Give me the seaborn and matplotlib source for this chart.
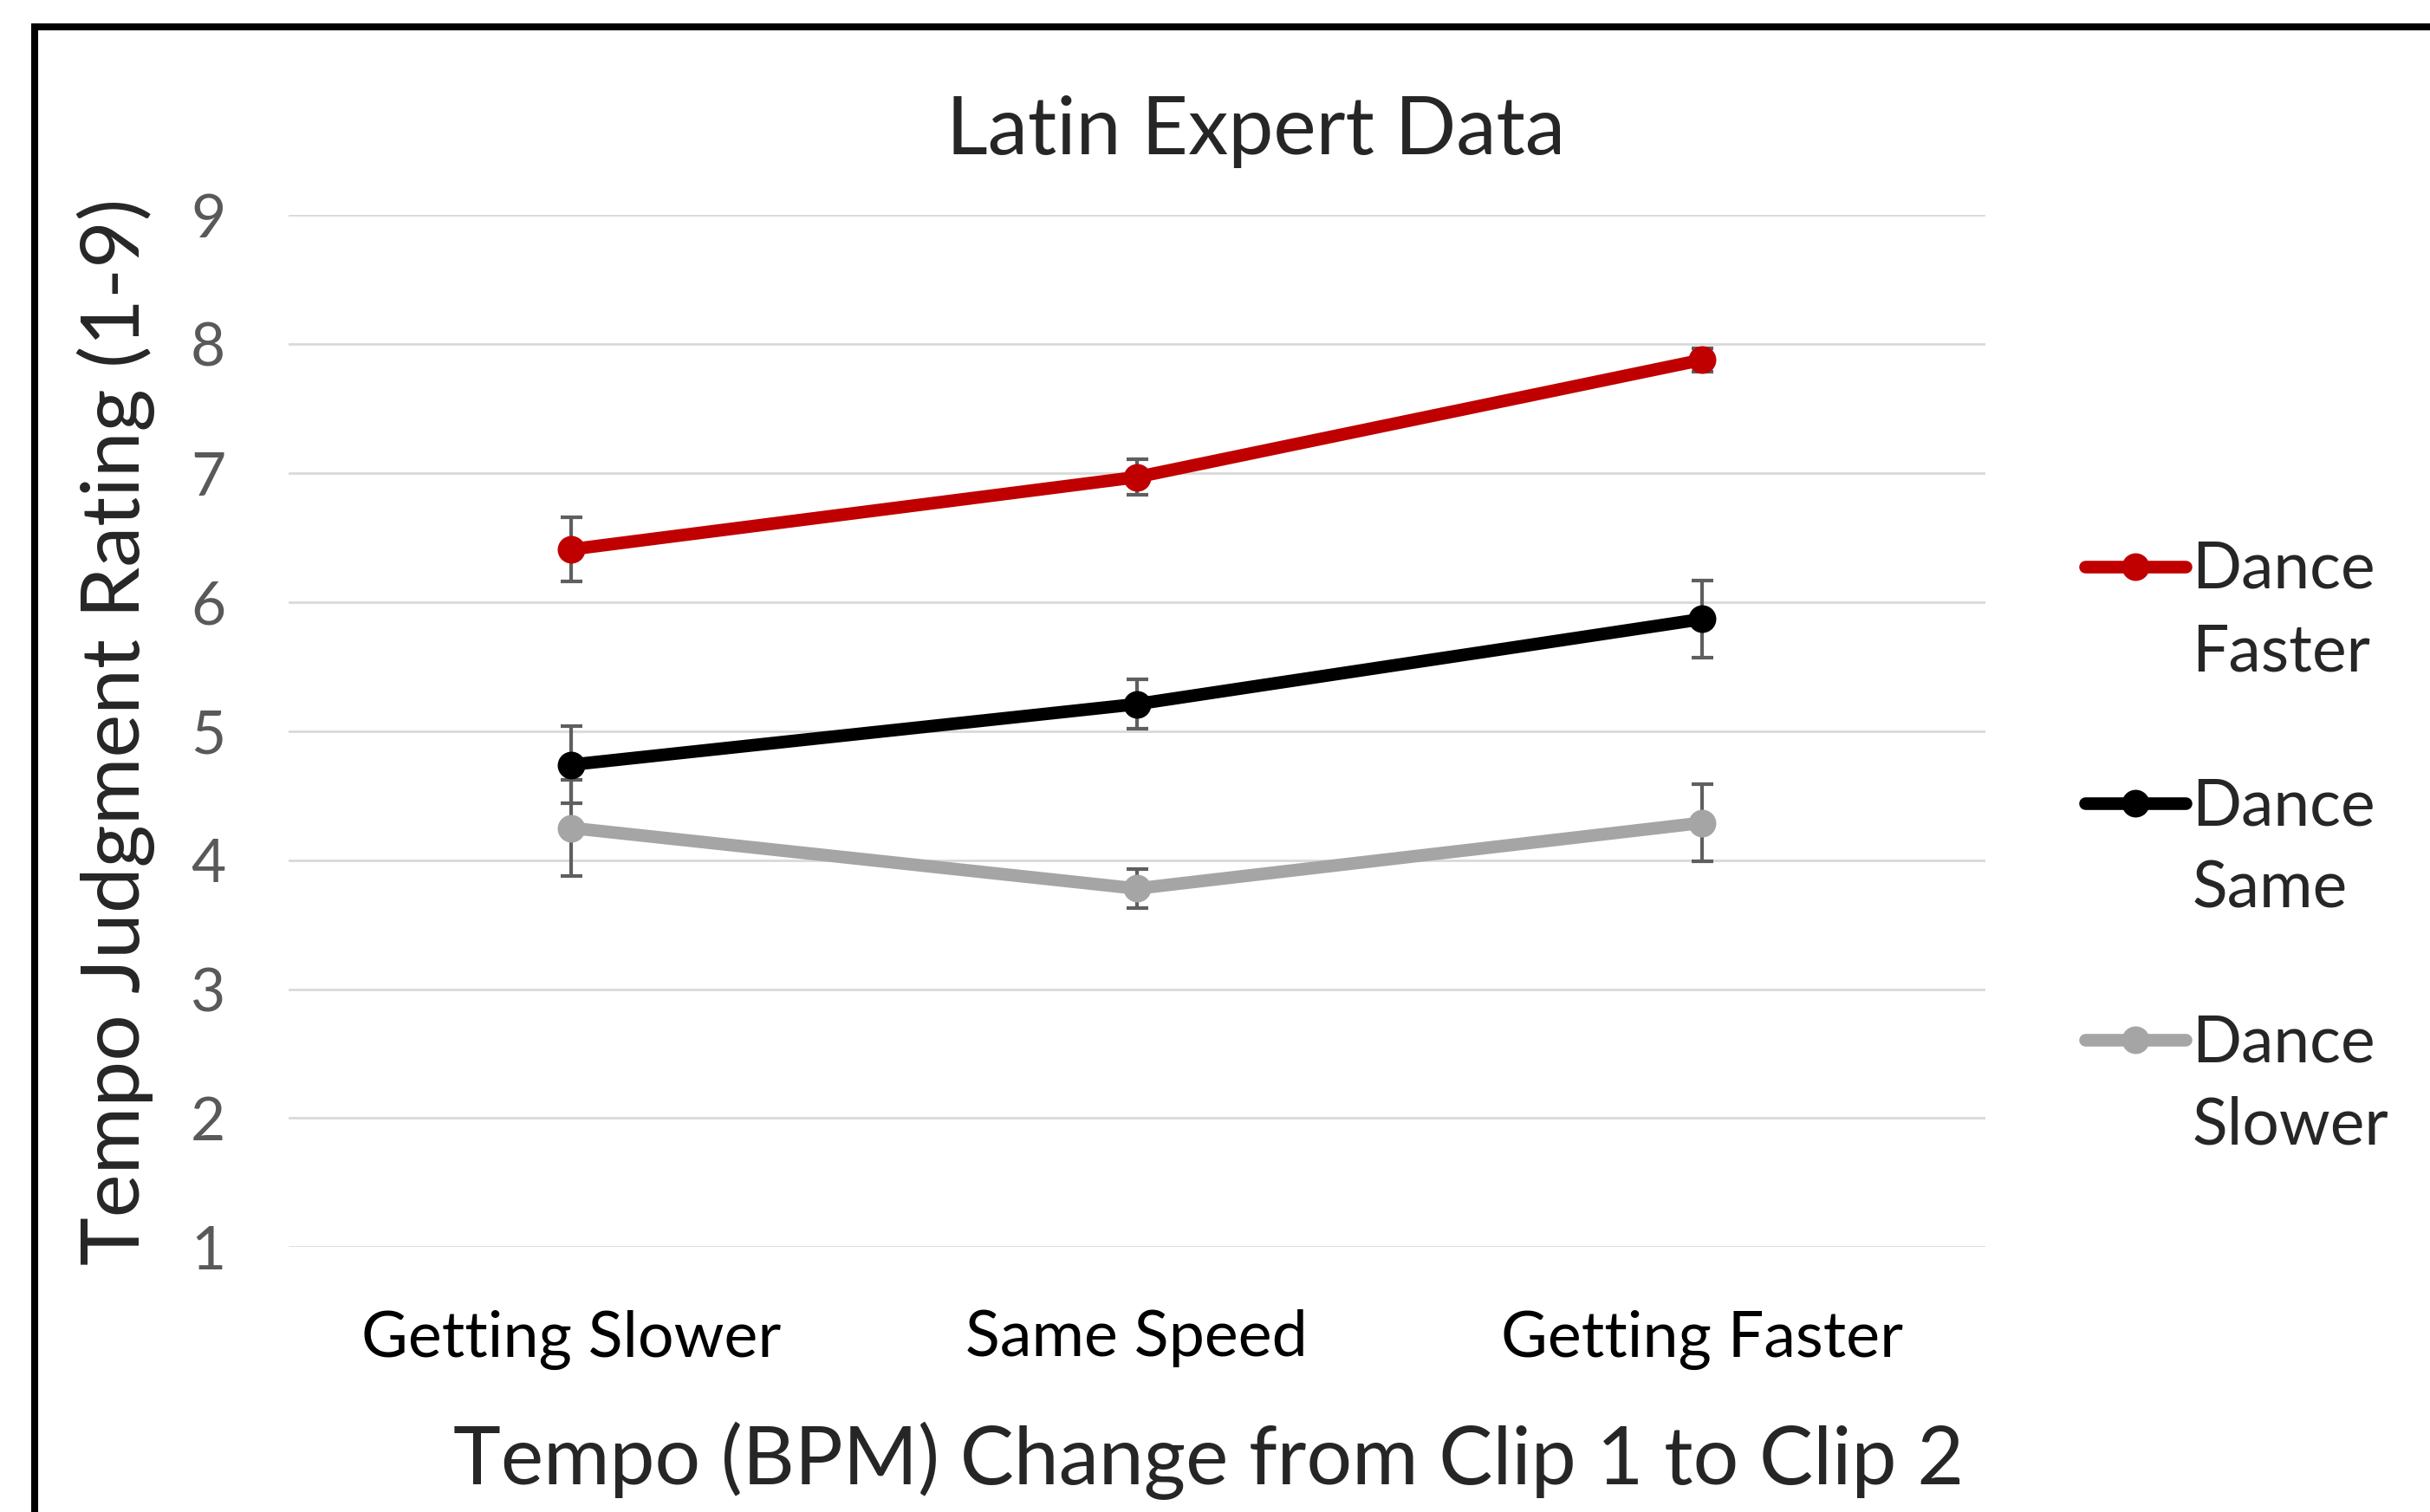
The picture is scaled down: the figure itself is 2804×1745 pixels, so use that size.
"""Latin expert tempo judgment ratings, recreated with seaborn."""

import matplotlib

matplotlib.use("Agg")
import matplotlib.pyplot as plt
import numpy as np
import pandas as pd
import seaborn as sns
from matplotlib.legend_handler import HandlerLine2D
from matplotlib.patches import Rectangle

# Data
categories = ["Getting Slower", "Same Speed", "Getting Faster"]
series = ["Dance Faster", "Dance Same", "Dance Slower"]
faster = [6.41, 6.97, 7.88]
faster_err = [0.25, 0.14, 0.09]
same = [4.74, 5.21, 5.87]
same_err = [0.30, 0.19, 0.30]
slower = [4.25, 3.78, 4.29]
slower_err = [0.37, 0.15, 0.30]
y_ticks = [1, 2, 3, 4, 5, 6, 7, 8, 9]

colors = {"Dance Faster": "#C00000", "Dance Same": "#000000", "Dance Slower": "#A5A5A5"}

df = pd.DataFrame(
    {
        "Tempo": categories * 3,
        "Rating": faster + same + slower,
        "Err": faster_err + same_err + slower_err,
        "Series": [s for s in series for _ in categories],
    }
)

sns.set_style("white")
plt.rcParams["font.family"] = ["Lato", "DejaVu Sans"]

fig = plt.figure(figsize=(28.04, 17.45), dpi=100)
ax = fig.add_axes([0.1186, 0.1752, 0.6984, 0.6824])

# Error bars first so the markers sit on top of them
for name in series:
    sub = df[df["Series"] == name]
    ax.errorbar(
        sub["Tempo"], sub["Rating"], yerr=sub["Err"], fmt="none",
        ecolor="#5F5F5F", elinewidth=3, capsize=9, capthick=3, zorder=2,
    )

sns.lineplot(
    data=df, x="Tempo", y="Rating", hue="Series", palette=colors,
    hue_order=series, sort=False, marker="o", markersize=23, markeredgewidth=0,
    linewidth=10.5, solid_capstyle="round", ax=ax, zorder=3,
)

ax.set_xlim(-0.5, 2.5)
ax.set_ylim(1, 9)
ax.set_yticks(y_ticks)
ax.grid(axis="y", color="#D9D9D9", linewidth=2)
ax.grid(axis="x", visible=False)
ax.set_axisbelow(True)
for side in ["top", "right", "left", "bottom"]:
    ax.spines[side].set_visible(False)

ax.tick_params(axis="y", length=0, pad=52, labelsize=50, labelcolor="#595959")
ax.tick_params(axis="x", length=0, pad=52, labelsize=53, labelcolor="black")

ax.set_xlabel("Tempo (BPM) Change from Clip 1 to Clip 2", fontsize=67, va="center")
ax.xaxis.set_label_coords(0.5425, -0.207)
ax.set_ylabel("Tempo Judgment Rating (1-9)", fontsize=68, va="center")
ax.yaxis.set_label_coords(-0.1014, 0.5)
ax.set_title("Latin Expert Data", fontsize=67, x=0.57, y=1.074, va="center")


class FirstLineHandler(HandlerLine2D):
    """Lift the legend line so it lines up with the first text line."""

    def create_artists(self, legend, orig_handle, xdescent, ydescent,
                       width, height, fontsize, trans):
        artists = super().create_artists(legend, orig_handle, xdescent, ydescent,
                                          width, height, fontsize, trans)
        for a in artists:
            a.set_ydata(np.asarray(a.get_ydata()) + 0.71 * fontsize)
        return artists


handles, labels = ax.get_legend_handles_labels()
ax.get_legend().remove()
for h in handles:
    h.set_solid_capstyle("round")
leg = ax.legend(
    handles, [lbl.replace(" ", "\n") for lbl in labels],
    loc="upper left", bbox_to_anchor=(0.858, 0.643), bbox_transform=fig.transFigure,
    frameon=False, fontsize=54, handlelength=1.55, handletextpad=0.1,
    labelspacing=1.45, borderaxespad=0, borderpad=0,
    handler_map={h: FirstLineHandler() for h in handles},
)
for t in leg.get_texts():
    t.set_linespacing(1.47)

# Chart-area border, cut off on the right and bottom like the source image
fig.patches.append(
    Rectangle((0.0143, -0.2), 1.5, 1.182, transform=fig.transFigure,
              fill=False, edgecolor="black", linewidth=5.8)
)

fig.savefig("out.png", dpi=100, facecolor="white")
